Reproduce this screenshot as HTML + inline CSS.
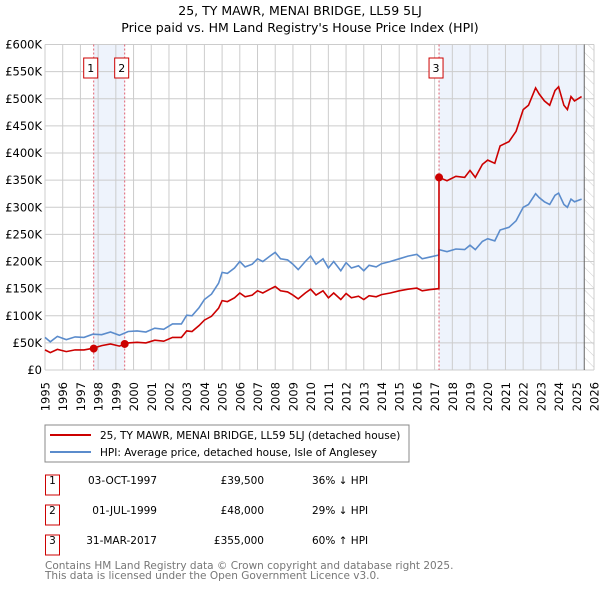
<!DOCTYPE html>
<html><head><meta charset="utf-8">
<style>
body{margin:0;width:600px;height:590px;background:#fff;font-family:"DejaVu Sans","Liberation Sans",sans-serif;overflow:hidden}
svg text{font-family:"DejaVu Sans","Liberation Sans",sans-serif}
</style></head><body>
<svg id="chart" width="600" height="590" xmlns="http://www.w3.org/2000/svg">
<defs>
<pattern id="hatch" patternUnits="userSpaceOnUse" width="8" height="8" patternTransform="rotate(-45)">
<line x1="0" y1="0" x2="0" y2="8" stroke="#ccc" stroke-width="1"/>
</pattern>
</defs>
<text x="300" y="15" text-anchor="middle" font-size="12.5" fill="#000">25, TY MAWR, MENAI BRIDGE, LL59 5LJ</text>
<text x="300" y="32" text-anchor="middle" font-size="12.5" fill="#000">Price paid vs. HM Land Registry's House Price Index (HPI)</text>
<g id="plot"></g>
<g>
<rect x="45" y="425" width="364" height="37" fill="#fff" stroke="#888"/>
<line x1="50" y1="435" x2="91" y2="435" stroke="#cc0000" stroke-width="2"/>
<text x="100" y="439" font-size="10.5">25, TY MAWR, MENAI BRIDGE, LL59 5LJ (detached house)</text>
<line x1="50" y1="452" x2="91" y2="452" stroke="#5b8ccc" stroke-width="2"/>
<text x="100" y="456" font-size="10.5">HPI: Average price, detached house, Isle of Anglesey</text>
</g>
<g id="table" font-size="10.5"></g>
<text x="45" y="569" font-size="10.5" fill="#777">Contains HM Land Registry data © Crown copyright and database right 2025.</text>
<text x="45" y="579" font-size="10.5" fill="#777">This data is licensed under the Open Government Licence v3.0.</text>
</svg>
<script>
const dates=[1995.0,1995.3,1995.7,1996.2,1996.7,1997.2,1997.7,1998.2,1998.7,1999.2,1999.7,2000.2,2000.7,2001.2,2001.7,2002.2,2002.7,2003.0,2003.3,2003.7,2004.0,2004.4,2004.8,2005.0,2005.3,2005.7,2006.0,2006.3,2006.7,2007.0,2007.3,2007.7,2008.0,2008.3,2008.7,2009.0,2009.3,2009.7,2010.0,2010.3,2010.7,2011.0,2011.3,2011.7,2012.0,2012.3,2012.7,2013.0,2013.3,2013.7,2014.0,2014.5,2015.0,2015.5,2016.0,2016.3,2016.7,2017.24,2017.25,2017.7,2018.2,2018.7,2019.0,2019.3,2019.7,2020.0,2020.4,2020.7,2021.2,2021.6,2022.0,2022.3,2022.7,2022.9,2023.2,2023.5,2023.8,2024.0,2024.3,2024.5,2024.7,2024.9,2025.3];
const hpiValues=[60,52,62,56,61,60,66,65,70,64,71,72,70,77,75,85,85,101,100,115,130,140,160,180,178,188,200,190,195,205,200,210,217,205,203,195,185,200,210,195,205,188,200,183,198,188,192,183,193,190,196,200,205,210,213,205,208,212,222,218,223,222,230,222,237,242,238,258,263,275,300,305,325,318,310,305,322,326,305,300,315,310,315];
const propValues=[37,32,38,34,37,37,40,45,48,44,50,51,50,55,53,60,60,72,71,82,92,99,114,128,126,133,142,135,138,146,142,149,154,146,144,138,131,142,149,138,146,133,142,130,141,133,136,130,137,135,139,142,146,149,151,146,148,150,355,349,357,355,368,355,379,387,381,413,421,440,480,488,520,509,496,488,515,522,488,480,504,496,504];
const saleDates=[1997.75,1999.5,2017.25];
const saleValues=[39.5,48,355];
const saleLabels=["1","2","3"];
const saleDateText=["03-OCT-1997","01-JUL-1999","31-MAR-2017"];
const salePriceText=["£39,500","£48,000","£355,000"];
const salePctText=["36% ↓ HPI","29% ↓ HPI","60% ↑ HPI"];
const yTicks=[0,50,100,150,200,250,300,350,400,450,500,550,600];
const yTickLabels=["£0","£50K","£100K","£150K","£200K","£250K","£300K","£350K","£400K","£450K","£500K","£550K","£600K"];
const xTicks=[1995,1996,1997,1998,1999,2000,2001,2002,2003,2004,2005,2006,2007,2008,2009,2010,2011,2012,2013,2014,2015,2016,2017,2018,2019,2020,2021,2022,2023,2024,2025,2026];
const dataEnd=2025.45;

const L=45,R=594,T=44.5,B=370;
const X=d=>L+(d-1995)/31*(R-L);
const Y=v=>B-v/600*(B-T);
const NS="http://www.w3.org/2000/svg";
function mk(tag,attrs,parent){const e=document.createElementNS(NS,tag);for(const k in attrs)e.setAttribute(k,attrs[k]);parent.appendChild(e);return e;}
const plot=document.getElementById('plot');
let b1=mk('rect',{x:X(saleDates[0]),y:T,width:X(saleDates[1])-X(saleDates[0]),height:B-T,fill:'#eef3fc'},plot);


let b2=mk('rect',{x:X(saleDates[2]),y:T,width:X(dataEnd)-X(saleDates[2]),height:B-T,fill:'#eef3fc'},plot);


let h=mk('rect',{x:X(dataEnd),y:T,width:R-X(dataEnd),height:B-T,fill:'url(#hatch)'},plot);


yTicks.forEach((v,i)=>{
 let g=mk('line',{x1:L,x2:R,y1:Y(v),y2:Y(v),stroke:'#ccc','stroke-width':1},plot);
 
 
 let t=mk('text',{x:L-3,y:Y(v)+4,'text-anchor':'end','font-size':'11.5'},plot);
 t.textContent=yTickLabels[i];
 
 
});
xTicks.forEach(d=>{
 let g=mk('line',{x1:X(d),x2:X(d),y1:T,y2:B,stroke:'#ccc','stroke-width':1},plot);
 
 
 const tx=X(d)+4.5;
 let t=mk('text',{x:tx,y:382,'text-anchor':'end','font-size':'11.5',transform:'rotate(-90 '+tx+' 382)'},plot);
 t.textContent=String(d);
 
 
});
let de=mk('line',{x1:X(dataEnd),x2:X(dataEnd),y1:T,y2:B,stroke:'#666','stroke-width':1},plot);


saleDates.forEach((d,i)=>{
 let l=mk('line',{x1:X(d),x2:X(d),y1:T,y2:B,stroke:'#e06070','stroke-width':1,'stroke-dasharray':'2,2'},plot);
 
 
});
const pts=(vals)=>dates.map((d,i)=>X(d).toFixed(1)+','+Y(vals[i]).toFixed(1)).join(' ');
let hp=mk('polyline',{points:pts(hpiValues),fill:'none',stroke:'#5b8ccc','stroke-width':1.6},plot);


let pp=mk('polyline',{points:pts(propValues),fill:'none',stroke:'#cc0000','stroke-width':1.6},plot);


saleDates.forEach((d,i)=>{
 let c=mk('circle',{cx:X(d),cy:Y(saleValues[i]),r:4,fill:'#cc0000'},plot);
 
 
 let bx=mk('rect',{x:X(d)-10,y:58,width:14,height:20,fill:'#fff',stroke:'#cc0000'},plot);
 
 
 let t=mk('text',{x:X(d)-3,y:72,'text-anchor':'middle','font-size':'11'},plot);
 t.textContent=saleLabels[i];
 
 
});
const tb=document.getElementById('table');
saleLabels.forEach((s,i)=>{
 const cy=485+i*30;
 let bx=mk('rect',{x:45.5,y:cy-10,width:14,height:20,fill:'#fff',stroke:'#cc0000'},tb);
 
 
 let n=mk('text',{x:52.5,y:cy-1,'text-anchor':'middle'},tb); n.textContent=s;
 
 
 let a=mk('text',{x:157,y:cy-1,'text-anchor':'end'},tb); a.textContent=saleDateText[i];
 
 
 let p=mk('text',{x:264,y:cy-1,'text-anchor':'end'},tb); p.textContent=salePriceText[i];
 
 
 let q=mk('text',{x:312,y:cy-1},tb); q.textContent=salePctText[i];
 
 
});
</script>
</body></html>
